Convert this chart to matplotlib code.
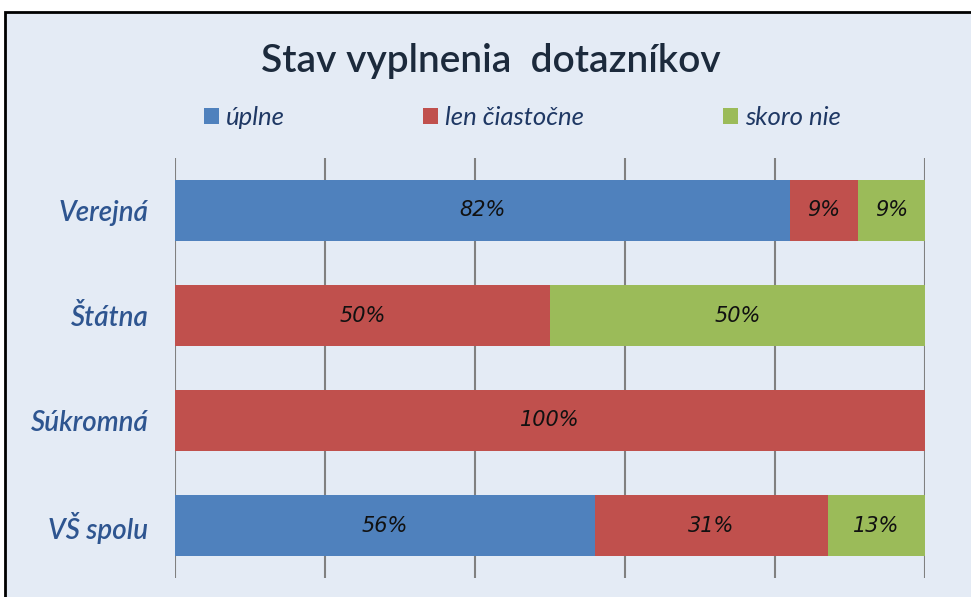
import matplotlib.pyplot as plt
import numpy as np
from matplotlib.patches import Rectangle

kategorie = ['Verejná', 'Štátna', 'Súkromná', 'VŠ spolu']
uplne = [82, 0, 0, 56]
ciastocne = [9, 50, 100, 31]
skoro_nie = [9, 50, 0, 13]
nazvy = ['úplne', 'len čiastočne', 'skoro nie']
farby = ['#4f81bd', '#c0504d', '#9bbb59']
pozadie = '#e4ebf5'

fig = plt.figure(figsize=(9.71, 5.97), dpi=100, facecolor='white')
# ramik grafu
fig.patches.append(Rectangle((5/971, -0.1), 1.2, 0.1 + 1 - 12/597, transform=fig.transFigure,
                             facecolor=pozadie, edgecolor='black', lw=2, zorder=-1))

ax = fig.add_axes([175/971, 19/597, 750/971, 420/597])
ax.set_facecolor('none')

y = np.arange(len(kategorie))
zlava = np.zeros(len(kategorie))
for hodnoty, nazov, farba in zip([uplne, ciastocne, skoro_nie], nazvy, farby):
    hodnoty = np.array(hodnoty, dtype=float)
    pruhy = ax.barh(y, hodnoty, left=zlava, height=0.58, color=farba, label=nazov, zorder=2)
    for i, v in enumerate(hodnoty):
        if v > 0:
            ax.text(zlava[i] + v / 2, y[i], f'{v:.0f}%', ha='center', va='center',
                    fontsize=15, style='italic', color='#111111', zorder=3)
    zlava += hodnoty

ax.set_xlim(0, 100)
ax.set_ylim(len(kategorie) - 0.5, -0.5)
ax.set_xticks(np.arange(0, 101, 20))
ax.xaxis.grid(True, color='#808080', lw=1.5, zorder=1)
ax.tick_params(axis='x', length=0, labelbottom=False)
ax.tick_params(axis='y', length=0, pad=19)
ax.set_yticks(y)
ax.set_yticklabels(kategorie, fontsize=20, style='italic', fontweight='semibold',
                   color='#2e5590', family='Lato')
for s in ax.spines.values():
    s.set_visible(False)

fig.text(0.506, 1 - 61/597, 'Stav vyplnenia  dotazníkov', ha='center', va='center',
         fontsize=28, fontweight='semibold', color='#1c2a3c', family='Lato')

ax.legend(loc='center', bbox_to_anchor=(0.463, 1 + 40/420), ncol=3, frameon=False,
          prop={'family': 'Lato', 'style': 'italic', 'size': 18.5},
          labelcolor='#1f3864', handlelength=0.58, handleheight=0.58,
          handletextpad=0.27, columnspacing=5.4)

fig.savefig('out.png', dpi=100, facecolor='white')
